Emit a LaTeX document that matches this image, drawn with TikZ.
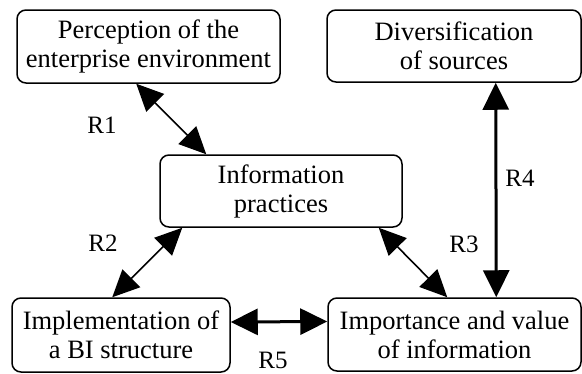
\documentclass[tikz,border=0pt]{standalone}
\usepackage{fontspec}
\setmainfont{Liberation Serif}
\usetikzlibrary{arrows.meta}
\begin{document}
\begin{tikzpicture}[x=1pt,y=-1pt,
  box/.style={draw,line width=1.5pt,rounded corners=9pt,inner sep=0pt,align=center,
    font=\fontsize{26.5}{29}\selectfont},
  lbl/.style={font=\fontsize{25}{27}\selectfont,inner sep=0pt},
  thin/.style={line width=1.6pt,{Triangle[length=27pt,width=25pt]}-{Triangle[length=27pt,width=25pt]}},
  thick/.style={line width=3pt,{Triangle[length=27pt,width=26pt]}-{Triangle[length=27pt,width=26pt]}}]
\useasboundingbox (0,0) rectangle (582,373);
\node[box,minimum width=263pt,minimum height=73pt] (p) at (148.5,46.5) {Perception of the\\enterprise environment};
\node[box,minimum width=254pt,minimum height=72pt] (d) at (454,46) {Diversification\\of sources};
\node[box,minimum width=242pt,minimum height=72pt] (ip) at (281,191) {Information\\practices};
\node[box,minimum width=218pt,minimum height=74pt] (bi) at (121,335) {Implementation of\\a BI structure};
\node[box,minimum width=253pt,minimum height=73pt] (iv) at (454.5,334.5) {Importance and value\\of information};
\draw[thin] ([xshift=120pt]p.south west) -- ([xshift=47pt]ip.north west);
\draw[thin] ([xshift=23pt]ip.south west) -- ([xshift=101pt]bi.north west);
\draw[thin] ([xshift=-24pt]ip.south east) -- ([xshift=120pt]iv.north west);
\draw[thick] ([xshift=169.5pt]d.south west) -- ([xshift=169pt]iv.north west);
\draw[thick] ([yshift=13pt]bi.east) -- ([yshift=13pt]iv.west);
\node[lbl] (r1) at (102,125) {R1};
\node[lbl] (r2) at (103,243) {R2};
\node[lbl] (r3) at (464,244) {R3};
\node[lbl] (r4) at (520,178) {R4};
\node[lbl] (r5) at (273,360) {R5};
\end{tikzpicture}
\end{document}
